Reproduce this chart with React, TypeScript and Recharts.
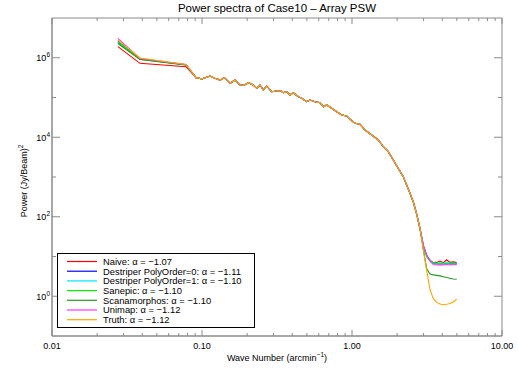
import { Label, Line, LineChart, ReferenceArea, XAxis, YAxis } from "recharts";

// wave numbers (arcmin^-1)
const headK = [0.0275, 0.0386, 0.0782];
const midK = [
  0.0912, 0.1, 0.113, 0.122, 0.132, 0.141, 0.154, 0.166, 0.179, 0.191,
  0.204, 0.22, 0.232, 0.244, 0.256, 0.27, 0.291, 0.315, 0.336, 0.348,
  0.367, 0.386, 0.406, 0.439, 0.462, 0.499, 0.525, 0.567, 0.612, 0.644,
  0.678, 0.732, 0.791, 0.854, 0.922, 0.97, 1.047, 1.131, 1.221, 1.353,
  1.497, 1.617, 1.746, 1.885, 2.026, 2.198, 2.436, 2.563, 2.7, 2.84,
];
const tailK = [2.99, 3.148, 3.311, 3.483, 3.67, 3.861, 4.061, 4.278, 4.502, 4.735, 4.989];

// shared part of all spectra
const midPower = [
  3.15e5, 2.95e5, 3.47e5, 3.04e5, 2.75e5, 3.15e5, 2.28e5, 2.75e5, 2.06e5, 2.03e5,
  2.36e5, 2.06e5, 1.7e5, 2.06e5, 1.55e5, 1.95e5, 1.4e5, 1.46e5, 1.48e5, 1.32e5,
  1.4e5, 1.16e5, 1.32e5, 1.05e5, 9.55e4, 7.84e4, 8.65e4, 7.84e4, 7.4e4, 5.87e4,
  6.48e4, 5.35e4, 4.4e4, 3.63e4, 3.43e4, 2.83e4, 2.24e4, 2.12e4, 1.52e4, 1.14e4,
  8.53e3, 5.78e3, 4.33e3, 2.68e3, 1.68e3, 1.02e3, 389, 235, 117, 50,
];

const naiveHead = [1.9e6, 7.24e5, 5.96e5];
const dp0Head = [2.56e6, 9.3e5, 6.68e5];
const dp1Head = [2.49e6, 9.3e5, 6.68e5];
const sanepicHead = [2.42e6, 9.2e5, 6.6e5];
const scanHead = [2.28e6, 9.1e5, 6.6e5];
const unimapHead = [3.08e6, 9.6e5, 6.75e5];
const truthHead = [2.8e6, 9.87e5, 6.8e5];

const naiveTail = [19, 10.5, 8.1, 7.0, 7.1, 7.7, 7.0, 8.3, 7.1, 7.3, 7.0];
const dp0Tail = [18.4, 10.3, 7.9, 6.8, 6.6, 6.7, 6.6, 6.8, 6.6, 6.7, 6.6];
const dp1Tail = [18.4, 10.3, 7.9, 6.9, 6.7, 6.8, 6.7, 6.9, 6.8, 6.8, 6.7];
const sanepicTail = [18, 10, 7.7, 6.7, 6.5, 6.6, 6.5, 6.6, 6.5, 6.6, 6.5];
const scanTail = [15, 4.9, 3.6, 3.45, 3.35, 3.25, 3.1, 2.95, 2.85, 2.72, 2.67];
const unimapTail = [19, 11, 7.6, 6.3, 6.1, 6.2, 6.1, 6.3, 6.1, 6.2, 6.2];
const truthTail = [14.6, 4.4, 1.48, 0.87, 0.7, 0.64, 0.61, 0.63, 0.66, 0.72, 0.84];

const xTicks = [
  0.01, 0.02, 0.03, 0.04, 0.05, 0.06, 0.07, 0.08, 0.09,
  0.1, 0.2, 0.3, 0.4, 0.5, 0.6, 0.7, 0.8, 0.9,
  1, 2, 3, 4, 5, 6, 7, 8, 9, 10,
];
const xLabels: Record<string, string> = { "0.01": "0.01", "0.1": "0.10", "1": "1.00", "10": "10.00" };
const yTicks = [0.1, 1, 10, 100, 1e3, 1e4, 1e5, 1e6, 1e7];
const yLabels: Record<string, string> = { "1": "0", "100": "2", "10000": "4", "1000000": "6" };

const allK = [...headK, ...midK, ...tailK];
const build = (head: number[], tail: number[]) =>
  [...head, ...midPower, ...tail].map((p, i) => ({ k: allK[i], p }));

const series = [
  { name: "Naive: α = −1.07", color: "#ff0000", data: build(naiveHead, naiveTail) },
  { name: "Destriper PolyOrder=0: α = −1.11", color: "#0000ff", data: build(dp0Head, dp0Tail) },
  { name: "Destriper PolyOrder=1: α = −1.10", color: "#00e5ff", data: build(dp1Head, dp1Tail) },
  { name: "Sanepic: α = −1.10", color: "#00ee00", data: build(sanepicHead, sanepicTail) },
  { name: "Scanamorphos: α = −1.10", color: "#229a22", data: build(scanHead, scanTail) },
  { name: "Unimap: α = −1.12", color: "#ff33ff", data: build(unimapHead, unimapTail) },
  { name: "Truth: α = −1.12", color: "#ffa500", data: build(truthHead, truthTail) },
];

const FONT = "'Liberation Sans', Arial, sans-serif";
const AXIS = "#8a8a8a";
const LEFT = 52;
const RIGHT = 502;
const TOP = 18;
const BOTTOM = 336;

const XTick = ({ x, payload }: any) => {
  const label = xLabels[String(payload.value)];
  const len = label ? 6 : 3;
  return (
    <g>
      <line x1={x} x2={x} y1={BOTTOM} y2={BOTTOM - len} stroke={AXIS} />
      <line x1={x} x2={x} y1={TOP} y2={TOP + len} stroke={AXIS} />
      {label && (
        <text x={x} y={349} textAnchor="middle" fontSize={9} fontFamily={FONT} fill="#000">
          {label}
        </text>
      )}
    </g>
  );
};

const YTick = ({ y, payload }: any) => {
  const exp = yLabels[String(payload.value)];
  const edge = payload.value === 0.1 || payload.value === 1e7;
  const len = edge ? 0 : exp ? 8 : 4;
  return (
    <g>
      <line x1={LEFT} x2={LEFT + len} y1={y} y2={y} stroke={AXIS} />
      <line x1={RIGHT} x2={RIGHT - len} y1={y} y2={y} stroke={AXIS} />
      {exp && (
        <text x={50} y={y + 3.5} textAnchor="end" fontSize={9} fontFamily={FONT} fill="#000">
          10<tspan dy={-4} fontSize={6.5}>{exp}</tspan>
        </text>
      )}
    </g>
  );
};

export default function App() {
  return (
    <div style={{ position: "absolute", left: 0, top: 0, width: 518, height: 370, background: "#fff" }}>
      <LineChart width={518} height={370} margin={{ top: TOP, right: 16, left: 0, bottom: 0 }}>
        <XAxis
          dataKey="k"
          type="number"
          scale="log"
          domain={[0.01, 10]}
          ticks={xTicks}
          interval={0}
          allowDataOverflow
          height={34}
          stroke={AXIS}
          tickLine={false}
          tick={<XTick />}
        >
          <Label
            content={() => (
              <text x={277} y={361} textAnchor="middle" fontSize={9} fontFamily={FONT} fill="#000">
                Wave Number (arcmin<tspan dy={-4} fontSize={6.5}>−1</tspan>
                <tspan dy={4}>)</tspan>
              </text>
            )}
          />
        </XAxis>
        <YAxis
          type="number"
          scale="log"
          domain={[0.1, 1e7]}
          ticks={yTicks}
          interval={0}
          allowDataOverflow
          width={52}
          stroke={AXIS}
          tickLine={false}
          tick={<YTick />}
        >
          <Label
            content={() => (
              <text
                x={27}
                y={181}
                transform="rotate(-90 27 181)"
                textAnchor="middle"
                fontSize={9}
                fontFamily={FONT}
                fill="#000"
              >
                Power (Jy/Beam)<tspan dy={-4} fontSize={6.5}>2</tspan>
              </text>
            )}
          />
        </YAxis>
        <ReferenceArea x1={0.01} x2={10} y1={0.1} y2={1e7} fill="none" stroke={AXIS} />
        {series.map((s) => (
          <Line
            key={s.name}
            data={s.data}
            dataKey="p"
            type="linear"
            stroke={s.color}
            strokeWidth={1.1}
            dot={false}
            isAnimationActive={false}
          />
        ))}
      </LineChart>

      <div
        style={{
          position: "absolute",
          left: 0,
          top: 0,
          width: 518,
          textAlign: "center",
          fontFamily: FONT,
          fontSize: 11.5,
          lineHeight: "16px",
          color: "#000",
          paddingLeft: 36,
          boxSizing: "border-box",
        }}
      >
        Power spectra of Case10 – Array PSW
      </div>

      <div
        style={{
          position: "absolute",
          left: 57,
          top: 253,
          width: 196,
          height: 73,
          border: "1px solid #000",
          background: "#fff",
        }}
      >
        <svg width={196} height={73}>
          {series.map((s, i) => (
            <g key={s.name}>
              <line x1={9} x2={39} y1={7.5 + i * 9.7} y2={7.5 + i * 9.7} stroke={s.color} strokeWidth={1.2} />
              <text x={45} y={10.9 + i * 9.7} fontSize={9.4} fontFamily={FONT} fill="#000">
                {s.name}
              </text>
            </g>
          ))}
        </svg>
      </div>
    </div>
  );
}
